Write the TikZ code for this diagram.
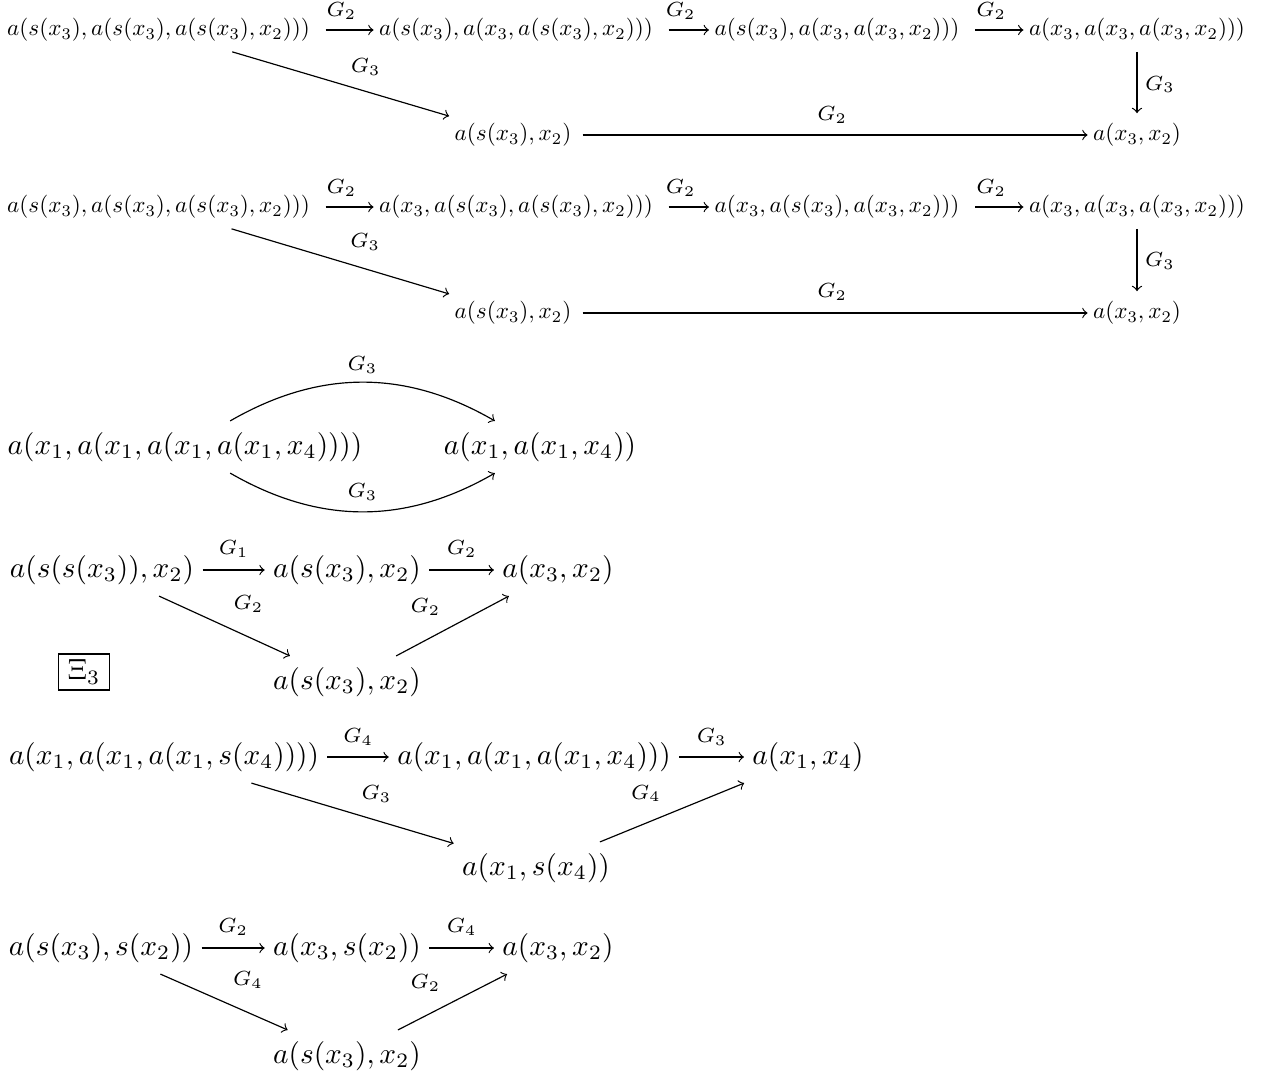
\documentclass[tikz,border=0pt]{standalone}
\begin{document}
\begin{tikzpicture}[x=0.3413pt, y=-0.3413pt,
  big/.style={font=\normalsize, inner xsep=2.7pt, inner ysep=3.7pt, text height=7.5pt, text depth=2.5pt},
  sml/.style={inner xsep=1.7pt, inner ysep=3.3pt, text height=5.9pt, text depth=2pt},
  lab/.style={font=\scriptsize, inner sep=0pt},
  arr/.style={->, line width=0.4pt},
  toparr/.style={arr, shorten <=3.5pt}]
\newcommand{\sm}[1]{\scalebox{0.79}{$#1$}}
\useasboundingbox (0,0) rectangle (1277,1078);
% ---------- diagram 1 ----------
\node[sml] (A1) at (158.5,30) {\sm{a(s(x_3),a(s(x_3),a(s(x_3),x_2)))}};
\node[sml] (A2) at (516,30) {\sm{a(s(x_3),a(x_3,a(s(x_3),x_2)))}};
\node[sml] (A3) at (837,30) {\sm{a(s(x_3),a(x_3,a(x_3,x_2)))}};
\node[sml] (A4) at (1137,30) {\sm{a(x_3,a(x_3,a(x_3,x_2)))}};
\node[sml] (B1) at (513,135) {\sm{a(s(x_3),x_2)}};
\node[sml] (B2) at (1137,135) {\sm{a(x_3,x_2)}};
\draw[toparr] (A1) -- node[lab, midway, shift={(-3,-19)}] {$G_2$} (A2);
\draw[toparr] (A2) -- node[lab, midway, shift={(-3,-19)}] {$G_2$} (A3);
\draw[toparr] (A3) -- node[lab, midway, shift={(-3,-19)}] {$G_2$} (A4);
\draw[arr] (A4) -- node[lab, midway, shift={(23,2)}] {$G_3$} (B2);
\draw[arr] (A1) -- node[lab, midway, shift={(25,-17)}] {$G_3$} (B1);
\draw[arr, shorten <=2pt] (B1) -- node[lab, midway, shift={(0,-20)}] {$G_2$} (B2);
% ---------- diagram 2 ----------
\node[sml] (C1) at (158.5,207) {\sm{a(s(x_3),a(s(x_3),a(s(x_3),x_2)))}};
\node[sml] (C2) at (516,207) {\sm{a(x_3,a(s(x_3),a(s(x_3),x_2)))}};
\node[sml] (C3) at (837,207) {\sm{a(x_3,a(s(x_3),a(x_3,x_2)))}};
\node[sml] (C4) at (1137,207) {\sm{a(x_3,a(x_3,a(x_3,x_2)))}};
\node[sml] (D1) at (513,313) {\sm{a(s(x_3),x_2)}};
\node[sml] (D2) at (1137,313) {\sm{a(x_3,x_2)}};
\draw[toparr] (C1) -- node[lab, midway, shift={(-3,-19)}] {$G_2$} (C2);
\draw[toparr] (C2) -- node[lab, midway, shift={(-3,-19)}] {$G_2$} (C3);
\draw[toparr] (C3) -- node[lab, midway, shift={(-3,-19)}] {$G_2$} (C4);
\draw[arr] (C4) -- node[lab, midway, shift={(23,1)}] {$G_3$} (D2);
\draw[arr] (C1) -- node[lab, midway, shift={(25,-19)}] {$G_3$} (D1);
\draw[arr, shorten <=2pt] (D1) -- node[lab, midway, shift={(0,-21)}] {$G_2$} (D2);
% ---------- diagram 3 ----------
\node[big] (E1) at (185,447) {$a(x_1,a(x_1,a(x_1,a(x_1,x_4))))$};
\node[big] (E2) at (540,447) {$a(x_1,a(x_1,x_4))$};
\draw[arr] (E1) to[bend left=30] node[lab, midway, shift={(0,-17)}] {$G_3$} (E2);
\draw[arr] (E1) to[bend right=30] node[lab, midway, shift={(0,-20)}] {$G_3$} (E2);
% ---------- diagram 4 ----------
\node[big] (F1) at (102,570) {$a(s(s(x_3)),x_2)$};
\node[big] (F2) at (347,570) {$a(s(x_3),x_2)$};
\node[big] (F3) at (558,570) {$a(x_3,x_2)$};
\node[big] (F4) at (347,682) {$a(s(x_3),x_2)$};
\node[draw, line width=0.4pt, inner xsep=3pt, inner ysep=2pt] (Xi) at (84,672) {$\Xi_3$};
\draw[arr] (F1) -- node[lab, midway, shift={(0,-21)}] {$G_1$} (F2);
\draw[arr] (F2) -- node[lab, midway, shift={(0,-21)}] {$G_2$} (F3);
\draw[arr] (F1) -- node[lab, midway, shift={(24,-22)}] {$G_2$} (F4);
\draw[arr] (F4) -- node[lab, midway, shift={(-27,-19)}] {$G_2$} (F3);
% ---------- diagram 5 ----------
\node[big] (G1) at (164,757) {$a(x_1,a(x_1,a(x_1,s(x_4))))$};
\node[big] (G2) at (534,757) {$a(x_1,a(x_1,a(x_1,x_4)))$};
\node[big] (G3) at (808,757) {$a(x_1,x_4)$};
\node[big] (G4) at (536,868) {$a(x_1,s(x_4))$};
\draw[arr] (G1) -- node[lab, midway, shift={(0,-20)}] {$G_4$} (G2);
\draw[arr] (G2) -- node[lab, midway, shift={(0,-20)}] {$G_3$} (G3);
\draw[arr] (G1) -- node[lab, midway, shift={(24,-19)}] {$G_3$} (G4);
\draw[arr] (G4) -- node[lab, midway, shift={(-26,-19)}] {$G_4$} (G3);
% ---------- diagram 6 ----------
\node[big] (H1) at (101,948) {$a(s(x_3),s(x_2))$};
\node[big] (H2) at (347,948) {$a(x_3,s(x_2))$};
\node[big] (H3) at (558,948) {$a(x_3,x_2)$};
\node[big] (H4) at (347,1056) {$a(s(x_3),x_2)$};
\draw[arr] (H1) -- node[lab, midway, shift={(0,-21)}] {$G_2$} (H2);
\draw[arr] (H2) -- node[lab, midway, shift={(0,-21)}] {$G_4$} (H3);
\draw[arr] (H1) -- node[lab, midway, shift={(24,-22)}] {$G_4$} (H4);
\draw[arr] (H4) -- node[lab, midway, shift={(-27,-19)}] {$G_2$} (H3);
\end{tikzpicture}
\end{document}
